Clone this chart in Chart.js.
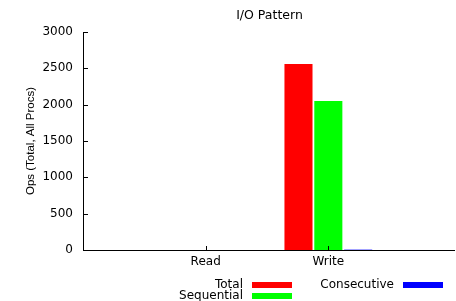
<!DOCTYPE html>
<html>
<head>
<meta charset="utf-8">
<script src="https://cdn.jsdelivr.net/npm/chart.js@4"></script>
<style>
    html, body { margin: 0; padding: 0; background: #fff; }
    #wrap { width: 456px; height: 301px; }
</style>
</head>
<body>
<div id="wrap"><canvas id="ioChart"></canvas></div>
<script>
const chartTitle = 'I/O Pattern';
const yAxisTitle = 'Ops (Total, All Procs)';
// blank slots at both ends keep the gnuplot-style x range
const categories = ['', 'Read', 'Write', ''];
const seriesNames = ['Total', 'Sequential', 'Consecutive'];
const seriesColors = ['#ff0000', '#00ff00', '#0000ff'];
const totalOps = [null, 0, 2560, null];
const sequentialOps = [null, 0, 2050, null];
const consecutiveOps = [null, 0, 5, null];
const yTicks = [0, 500, 1000, 1500, 2000, 2500, 3000];

const FONT = "'DejaVu Sans', sans-serif";

// axes, inward ticks, title and the gnuplot style key
const gnuplotLook = {
    id: 'gnuplotLook',
    afterDraw(chart) {
        const { ctx, chartArea, scales } = chart;
        const x = scales.x, y = scales.y;
        const base = y.getPixelForValue(0);
        ctx.save();
        ctx.strokeStyle = '#000';
        ctx.lineWidth = 1;
        ctx.beginPath();
        ctx.moveTo(chartArea.left + 0.5, y.getPixelForValue(3000));
        ctx.lineTo(chartArea.left + 0.5, base + 0.5);
        ctx.lineTo(chart.width - 1, base + 0.5);
        yTicks.forEach(v => {
            const py = Math.round(y.getPixelForValue(v)) + 0.5;
            ctx.moveTo(chartArea.left, py);
            ctx.lineTo(chartArea.left + 5, py);
        });
        categories.forEach((c, i) => {
            if (!c) return;
            const px = Math.round(x.getPixelForValue(i)) + 0.5;
            ctx.moveTo(px, base);
            ctx.lineTo(px, base - 4);
        });
        ctx.stroke();

        ctx.fillStyle = '#000';
        ctx.font = '12.5px ' + FONT;
        ctx.textAlign = 'center';
        ctx.textBaseline = 'middle';
        ctx.fillText(chartTitle, (chartArea.left + chart.width) / 2, 16);

        // key: text then swatch, filled column by column, two rows
        const slots = [
            { tx: 243, ty: 285 },
            { tx: 243, ty: 296 },
            { tx: 394, ty: 285 }
        ];
        ctx.font = '12px ' + FONT;
        ctx.textAlign = 'right';
        seriesNames.forEach((name, i) => {
            const s = slots[i];
            ctx.fillStyle = '#000';
            ctx.fillText(name, s.tx, s.ty);
            ctx.fillStyle = seriesColors[i];
            ctx.fillRect(s.tx + 9, s.ty - 3, 40, 6);
        });
        ctx.restore();
    }
};

const ctx = document.getElementById('ioChart').getContext('2d');
new Chart(ctx, {
    type: 'bar',
    data: {
        labels: categories,
        datasets: [
            { label: seriesNames[0], data: totalOps, backgroundColor: seriesColors[0] },
            { label: seriesNames[1], data: sequentialOps, backgroundColor: seriesColors[1] },
            { label: seriesNames[2], data: consecutiveOps, backgroundColor: seriesColors[2] }
        ]
    },
    options: {
        responsive: true,
        maintainAspectRatio: false,
        animation: false,
        layout: { padding: { top: 32, right: 5, left: 0, bottom: 0 } },
        datasets: {
            bar: { categoryPercentage: 0.73, barPercentage: 0.94, borderWidth: 0 }
        },
        plugins: {
            legend: { display: false },
            title: { display: false },
            tooltip: { enabled: false }
        },
        scales: {
            x: {
                offset: false,
                grid: { display: false, drawTicks: false },
                border: { display: false },
                ticks: { color: '#000', font: { family: FONT, size: 12 }, padding: 5, maxRotation: 0, autoSkip: false },
                afterFit: scale => { scale.height = 51; }
            },
            y: {
                min: 0,
                max: 3000,
                grid: { display: false, drawTicks: false },
                border: { display: false },
                afterBuildTicks: scale => { scale.ticks = yTicks.map(v => ({ value: v })); },
                ticks: {
                    color: '#000',
                    font: { family: FONT, size: 12 },
                    padding: 10,
                    callback: v => String(v)
                },
                title: {
                    display: true,
                    text: yAxisTitle,
                    color: '#000',
                    font: { family: "'Liberation Sans', sans-serif", size: 11.5 },
                    padding: { top: 24, bottom: 0 }
                },
                afterFit: scale => { scale.width = 83; }
            }
        }
    },
    plugins: [gnuplotLook]
});
</script>
</body>
</html>
